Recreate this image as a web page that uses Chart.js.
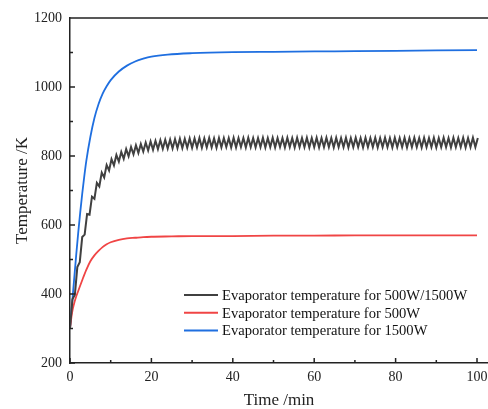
<!DOCTYPE html>
<html><head><meta charset="utf-8">
<script src="https://cdn.jsdelivr.net/npm/chart.js@4.4.1/dist/chart.umd.min.js"></script>
<style>html,body{margin:0;padding:0;background:#fff}#wrap{width:488px;height:409px;position:relative}</style>
</head><body><div id="wrap"><canvas id="c"></canvas></div>
<script>
// ---- data ----
const blueTime = [0,0.5,1,1.5,2,2.5,3,3.5,4,5,6,7,8,9,10,12,14,16,18,20,24,30,40,50,60,70,80,90,100];
const blueTemp = [300,370,440,510,575,635,690,740,785,855,910,950,980,1002,1020,1045,1062,1074,1082,1088,1094,1098,1101,1102,1103,1104,1105,1106,1107];

const redTime = [0,0.5,1,1.5,2,3,4,5,6,7,8,9,10,12,14,16,18,20,25,30,40,50,60,70,80,90,100];
const redTemp = [300,345,372,392,408,440,470,495,512,525,536,544,550,557,561,563,565,566,567,568,568,569,569,570,570,570,570];

const blackTime = [
0,0.6,1.2,1.8,2.4,3,3.6,4.2,4.8,5.4,
6,6.6,7.2,7.8,8.4,9,9.6,10.2,10.8,11.4,
12,12.6,13.2,13.8,14.4,15,15.6,16.2,16.8,17.4,
18,18.6,19.2,19.8,20.4,21,21.6,22.2,22.8,23.4,
24,24.6,25.2,25.8,26.4,27,27.6,28.2,28.8,29.4,
30,30.6,31.2,31.8,32.4,33,33.6,34.2,34.8,35.4,
36,36.6,37.2,37.8,38.4,39,39.6,40.2,40.8,41.4,
42,42.6,43.2,43.8,44.4,45,45.6,46.2,46.8,47.4,
48,48.6,49.2,49.8,50.4,51,51.6,52.2,52.8,53.4,
54,54.6,55.2,55.8,56.4,57,57.6,58.2,58.8,59.4,
60,60.6,61.2,61.8,62.4,63,63.6,64.2,64.8,65.4,
66,66.6,67.2,67.8,68.4,69,69.6,70.2,70.8,71.4,
72,72.6,73.2,73.8,74.4,75,75.6,76.2,76.8,77.4,
78,78.6,79.2,79.8,80.4,81,81.6,82.2,82.8,83.4,
84,84.6,85.2,85.8,86.4,87,87.6,88.2,88.8,89.4,
90,90.6,91.2,91.8,92.4,93,93.6,94.2,94.8,95.4,
96,96.6,97.2,97.8,98.4,99,99.6,100.2];
const blackTemp = [
300,385,398,478,492,565,572,632,630,682,
676,722,712,752,738,774,758,791,773,803,
784,812,792,820,799,826,805,831,809,835,
813,839,816,842,818,844,820,846,821,847,
822,848,822,849,823,850,823,850,824,851,
824,851,825,852,824,851,825,852,825,851,
824,852,825,852,826,852,825,853,825,852,
826,852,825,853,826,852,825,852,826,853,
825,852,826,853,825,852,826,852,825,853,
826,852,825,853,826,852,826,853,825,852,
826,853,825,852,826,853,826,852,825,853,
826,852,826,853,825,852,826,853,826,852,
825,853,826,852,826,853,825,852,826,853,
826,852,825,853,826,852,826,853,825,852,
826,853,826,852,825,853,826,852,826,853,
825,852,826,853,826,852,825,853,826,852,
826,853,825,852,826,853,826,852];

const seriesNames = [
  'Evaporator temperature for 500W/1500W',
  'Evaporator temperature for 500W',
  'Evaporator temperature for 1500W'
];
const xTicks = [0,10,20,30,40,50,60,70,80,90,100];
const xTickLabels = [0,20,40,60,80,100];
const yTicks = [200,300,400,500,600,700,800,900,1000,1100,1200];
const yTickLabels = [200,400,600,800,1000,1200];

// ---- chart ----
const SERIF = '"Liberation Serif","Times New Roman",serif';
const pts = (xs, ys) => xs.map((x, i) => ({x, y: ys[i]}));

const framePlugin = {
  id: 'frame',
  afterDraw(chart) {
    const {ctx, chartArea: a, scales: {x, y}} = chart;
    ctx.save();
    ctx.strokeStyle = '#222';
    ctx.lineWidth = 1.5;
    ctx.beginPath();
    ctx.moveTo(a.left, a.top);
    ctx.lineTo(a.right, a.top);
    x.ticks.forEach(t => {
      const px = x.getPixelForValue(t.value);
      const len = xTickLabels.includes(t.value) ? 5 : 3;
      ctx.moveTo(px, a.bottom);
      ctx.lineTo(px, a.bottom - len);
    });
    y.ticks.forEach(t => {
      const py = y.getPixelForValue(t.value);
      const len = yTickLabels.includes(t.value) ? 5 : 3;
      ctx.moveTo(a.left, py);
      ctx.lineTo(a.left + len, py);
    });
    ctx.stroke();

    // legend
    ctx.font = '14.6px ' + SERIF;
    ctx.textBaseline = 'middle';
    ctx.fillStyle = '#111';
    const lx = 184, ly = 295, dy = 17.8;
    chart.data.datasets.forEach((ds, i) => {
      const yy = ly + i * dy;
      ctx.strokeStyle = ds.borderColor;
      ctx.lineWidth = 2;
      ctx.beginPath();
      ctx.moveTo(lx, yy);
      ctx.lineTo(lx + 34, yy);
      ctx.stroke();
      ctx.fillText(ds.label, lx + 38, yy + 1);
    });
    ctx.restore();
  }
};

new Chart(document.getElementById('c'), {
  type: 'line',
  data: {
    datasets: [
      {label: seriesNames[0], data: pts(blackTime, blackTemp), borderColor: '#404040', borderWidth: 2, tension: 0},
      {label: seriesNames[1], data: pts(redTime, redTemp), borderColor: '#f04545', borderWidth: 1.8, cubicInterpolationMode: 'monotone'},
      {label: seriesNames[2], data: pts(blueTime, blueTemp), borderColor: '#1f6fe0', borderWidth: 1.8, cubicInterpolationMode: 'monotone'}
    ]
  },
  options: {
    responsive: true,
    maintainAspectRatio: false,
    animation: false,
    elements: {point: {radius: 0}},
    layout: {padding: {top: 18, right: 0, left: 0, bottom: 0}},
    plugins: {legend: {display: false}, tooltip: {enabled: false}},
    scales: {
      x: {
        type: 'linear', min: 0, max: 102.7,
        afterBuildTicks: s => { s.ticks = xTicks.map(v => ({value: v})); },
        afterFit: s => { s.height = 46; s.paddingRight = 0; s.paddingLeft = 0; },
        ticks: {autoSkip: false, maxRotation: 0, padding: 6, color: '#222',
          font: {family: SERIF, size: 14},
          callback: v => xTickLabels.includes(v) ? String(v) : ''},
        grid: {display: false, drawTicks: false},
        border: {display: true, color: '#222', width: 1.5},
        title: {display: true, text: 'Time /min', color: '#222', font: {family: SERIF, size: 17, lineHeight: 1}, padding: {top: 0, bottom: 0}}
      },
      y: {
        type: 'linear', min: 200, max: 1200,
        afterBuildTicks: s => { s.ticks = yTicks.map(v => ({value: v})); },
        afterFit: s => { s.width = 70; s.paddingTop = 0; s.paddingBottom = 0; },
        ticks: {autoSkip: false, padding: 8, color: '#222',
          font: {family: SERIF, size: 14},
          callback: v => yTickLabels.includes(v) ? String(v) : ''},
        grid: {display: false, drawTicks: false},
        border: {display: true, color: '#222', width: 1.5},
        title: {display: true, text: 'Temperature /K', color: '#222', font: {family: SERIF, size: 17, lineHeight: 1}, padding: {top: 14, bottom: 0}}
      }
    }
  },
  plugins: [framePlugin]
});
</script></body></html>
